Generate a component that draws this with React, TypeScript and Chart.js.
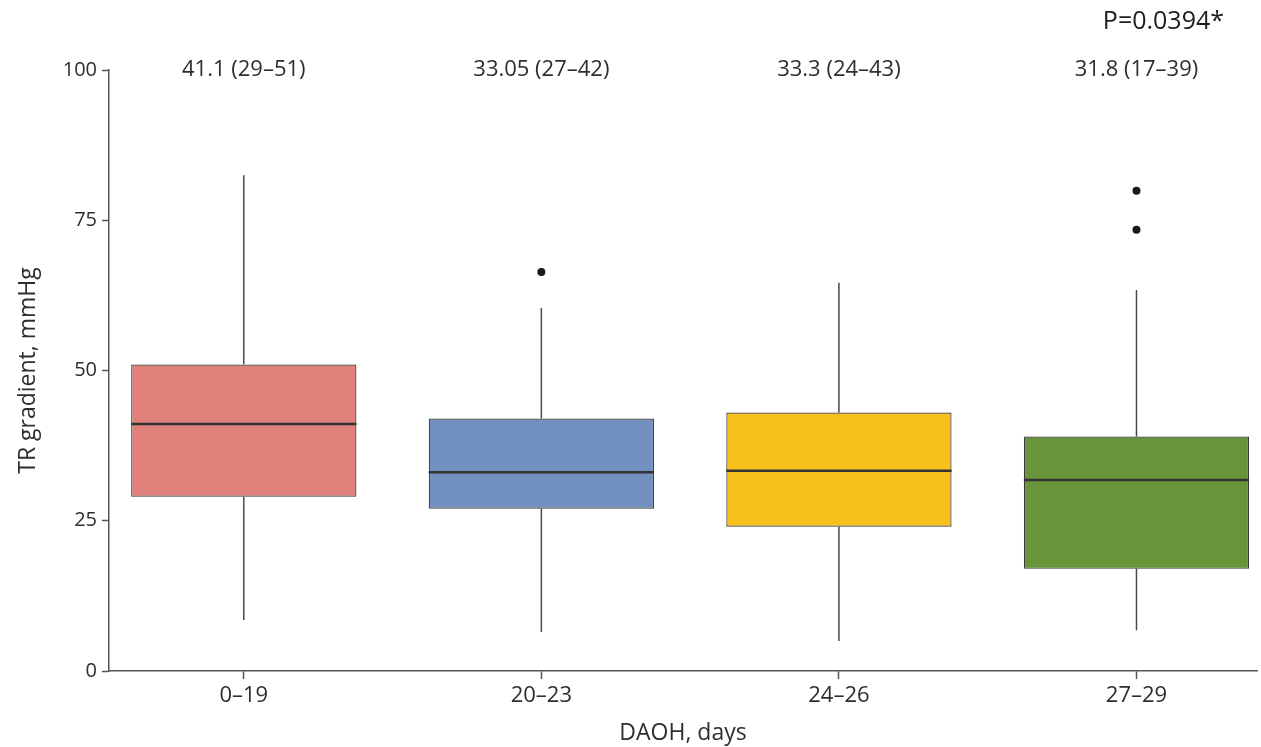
import React, { useEffect, useRef } from "react";
import { Chart, registerables } from "chart.js";

Chart.register(...registerables);

const categories = ["0–19", "20–23", "24–26", "27–29"];
const q1 = [29, 27, 24, 17];
const q3 = [51, 42, 43, 39];
const medians = [41.1, 33.05, 33.3, 31.8];
const whiskerLow = [8.5, 6.5, 5.0, 6.8];
const whiskerHigh = [82.5, 60.4, 64.6, 63.4];
const outlierX = [1, 3, 3];
const outlierY = [66.4, 79.9, 73.4];
const summaryLabels = ["41.1 (29–51)", "33.05 (27–42)", "33.3 (24–43)", "31.8 (17–39)"];
const boxColors = ["#E0817B", "#7290C0", "#F8C01A", "#68943A"];
const yTicks = [0, 25, 50, 75, 100];
const pValueText = "P=0.0394*";

const FONT = '"Open Sans"';
const TEXT = "#2e2e2e";
const AXIS = "#555555";

const boxPlugin = {
  id: "boxExtras",
  afterDatasetsDraw(chart: any) {
    const { ctx, scales, chartArea } = chart;
    const xs = scales.x;
    const ys = scales.y;
    const meta = chart.getDatasetMeta(0);
    ctx.save();
    meta.data.forEach((bar: any, i: number) => {
      const { x: cx, width } = bar.getProps(["x", "width"], true);
      ctx.strokeStyle = "#4a4a4a";
      ctx.lineWidth = 1.5;
      ctx.beginPath();
      ctx.moveTo(cx, ys.getPixelForValue(q3[i]));
      ctx.lineTo(cx, ys.getPixelForValue(whiskerHigh[i]));
      ctx.moveTo(cx, ys.getPixelForValue(q1[i]));
      ctx.lineTo(cx, ys.getPixelForValue(whiskerLow[i]));
      ctx.stroke();
      const ym = ys.getPixelForValue(medians[i]);
      ctx.strokeStyle = "#333333";
      ctx.lineWidth = 2.5;
      ctx.beginPath();
      ctx.moveTo(cx - width / 2, ym);
      ctx.lineTo(cx + width / 2, ym);
      ctx.stroke();
    });
    ctx.fillStyle = TEXT;
    ctx.font = `22px ${FONT}`;
    ctx.textAlign = "center";
    ctx.textBaseline = "middle";
    summaryLabels.forEach((t, i) => {
      ctx.fillText(t, xs.getPixelForValue(i), ys.getPixelForValue(100));
    });
    ctx.fillStyle = "#1e1e1e";
    ctx.font = `25px ${FONT}`;
    ctx.textAlign = "right";
    ctx.fillText(pValueText, chartArea.right - 33, 22);
    ctx.restore();
  },
};

export default function App() {
  const ref = useRef<HTMLCanvasElement>(null);
  useEffect(() => {
    if (!ref.current) return;
    const chart = new Chart(ref.current, {
      type: "bar",
      data: {
        datasets: [
          {
            type: "bar",
            data: categories.map((_, i) => ({ x: i, y: [q1[i], q3[i]] })) as any,
            backgroundColor: boxColors,
            borderColor: "#3a3a3a",
            borderWidth: 1.2,
            borderSkipped: false,
            barPercentage: 0.757,
            categoryPercentage: 1,
            grouped: false,
          } as any,
          {
            type: "scatter",
            data: outlierX.map((x, i) => ({ x, y: outlierY[i] })),
            pointRadius: 4,
            backgroundColor: "#1a1a1a",
            borderWidth: 0,
          } as any,
        ],
      },
      options: {
        animation: false,
        responsive: false,
        layout: { padding: { top: 70, left: 0, right: 0, bottom: 0 } },
        plugins: { legend: { display: false }, tooltip: { enabled: false }, title: { display: false } },
        scales: {
          x: {
            type: "linear",
            offset: false,
            min: -0.453,
            max: 3.405,
            afterBuildTicks: (s: any) => {
              s.ticks = categories.map((_, i) => ({ value: i }));
            },
            afterFit: (s: any) => {
              s.height = 76;
            },
            ticks: {
              callback: (v: any) => categories[v as number] ?? "",
              font: { family: "Open Sans", size: 22 },
              color: TEXT,
              padding: 4,
              maxRotation: 0,
              autoSkip: false,
            },
            grid: { offset: false, drawOnChartArea: false, drawTicks: true, tickLength: 8, color: AXIS, tickWidth: 1.5 },
            border: { color: AXIS, width: 1.5 },
            title: {
              display: true,
              text: "DAOH, days",
              font: { family: "Open Sans", size: 23 },
              color: TEXT,
              padding: { top: 3, bottom: 0 },
            },
          },
          y: {
            min: 0,
            max: 100,
            afterBuildTicks: (s: any) => {
              s.ticks = yTicks.map((v) => ({ value: v }));
            },
            afterFit: (s: any) => {
              s.width = 109;
            },
            ticks: {
              font: { family: "Open Sans", size: 20 },
              color: TEXT,
              padding: 5,
            },
            grid: { drawOnChartArea: false, drawTicks: true, tickLength: 7, color: AXIS, tickWidth: 1.5 },
            border: { color: AXIS, width: 1.5 },
            title: {
              display: true,
              text: "TR gradient, mmHg",
              font: { family: "Open Sans", size: 23 },
              color: TEXT,
              padding: { top: 15, bottom: 0 },
            },
          },
        },
      },
      plugins: [boxPlugin],
    });
    return () => chart.destroy();
  }, []);
  return (
    <div style={{ position: "absolute", left: 0, top: 0, width: 1261, height: 747, background: "#fff" }}>
      <canvas ref={ref} width={1261} height={747} />
    </div>
  );
}
